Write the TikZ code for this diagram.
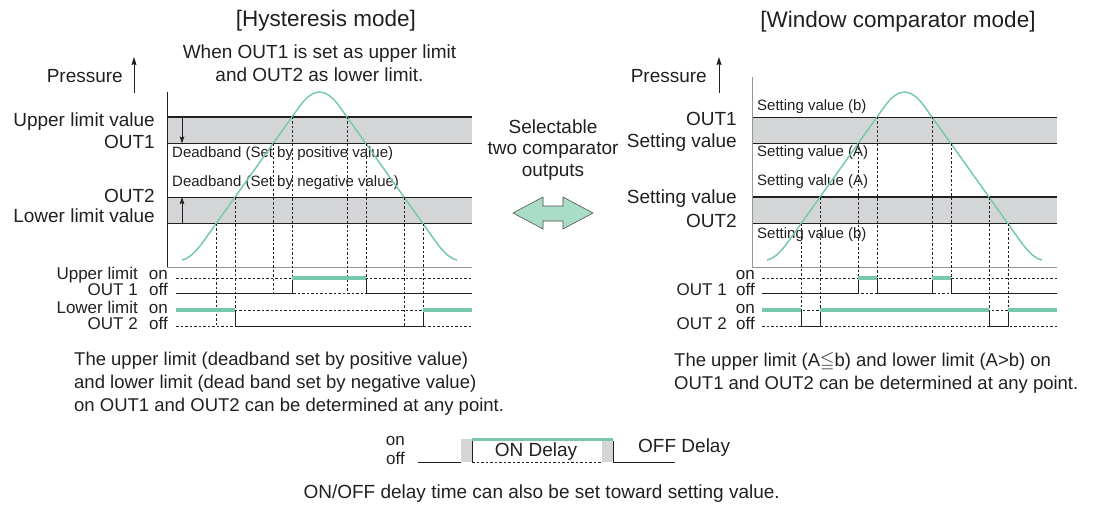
\documentclass[tikz,border=0pt]{standalone}
\usepackage{amssymb}
\usepackage{fontspec}
\setmainfont{Liberation Sans}
\usetikzlibrary{arrows.meta}

\definecolor{ink}{RGB}{35,31,32}
\definecolor{mint}{RGB}{120,201,172}
\definecolor{mintfill}{RGB}{170,221,200}
\definecolor{bandgray}{RGB}{212,213,215}
\definecolor{axisgray}{RGB}{150,150,150}

\newcommand\fsTitle{\fontsize{22.5}{27}\selectfont}
\newcommand\fsMain{\fontsize{19}{23}\selectfont}
\newcommand\fsNote{\fontsize{18.5}{23}\selectfont}
\newcommand\fsSel{\fontsize{19}{21.5}\selectfont}
\newcommand\fsTime{\fontsize{17}{16}\selectfont}
\newcommand\fsSmall{\fontsize{15}{18}\selectfont}

\tikzset{
  lbl/.style={inner sep=0pt, text=ink},
  guide/.style={ink, line width=0.5pt, dash pattern=on 2.5pt off 2pt},
  sig/.style={ink, line width=0.9pt},
  onsig/.style={mint, line width=3.2pt},
  wave/.style={mint, line width=1.5pt},
  setline/.style={ink, line width=1.6pt},
  bandline/.style={ink, line width=0.7pt},
  upar/.style={ink, line width=1pt, -{Stealth[length=8pt,width=5pt,inset=1pt]}},
  dbar/.style={ink, line width=0.7pt, -{Stealth[length=7pt,width=4.5pt,inset=1pt]}},
}

\newcommand\peakpath{%
  (-137.5,260) .. controls (-129,258.5) and (-121,248.3) .. (-115,239.9)
  -- (-20,106.5) .. controls (-13,96.7) and (-6,92) .. (0,92)
  .. controls (6,92) and (13,96.7) .. (20,106.5)
  -- (115,239.9) .. controls (121,248.3) and (129,258.5) .. (137.5,260)}

\begin{document}
\begin{tikzpicture}[x=1pt,y=-1pt]
\useasboundingbox (0,0) rectangle (1098,508);

%================ LEFT : Hysteresis =================
\node[lbl, font=\fsTitle] (titleL) at (326,21) {[Hysteresis mode]};
\node[lbl, font=\fsMain, align=center] (whenL) at (319.5,63) {When OUT1 is set as upper limit\\and OUT2 as lower limit.};
\node[lbl, font=\fsMain, anchor=mid east] (presL) at (123,80) {Pressure};
\coordinate (pLa) at (134,93);
\coordinate (pLb) at (134,57);
\draw[upar] (pLa) -- (pLb);

% bands
\fill[bandgray] (167,117) rectangle (472,143.5);
\fill[bandgray] (167,197) rectangle (472,223.5);
\draw[setline] (167,117) -- (472,117);
\draw[bandline] (167,143.5) -- (472,143.5);
\draw[bandline] (167,197) -- (472,197);
\draw[setline] (167,223.5) -- (472,223.5);

% axes
\coordinate (axLt) at (167,92);
\coordinate (axLo) at (167,267);
\coordinate (axLr) at (472,267);
\draw[ink, line width=0.8pt] (axLt) -- (axLo);
\draw[axisgray, line width=0.8pt] (axLo) -- (axLr);

% deadband arrows
\coordinate (dbA1) at (182,117); \coordinate (dbA2) at (182,143.5);
\coordinate (dbB1) at (182,223.5); \coordinate (dbB2) at (182,197);
\draw[dbar] (dbA1) -- (dbA2);
\draw[dbar] (dbB1) -- (dbB2);

\node[lbl, font=\fsMain, anchor=mid east] (ulv) at (155,124) {Upper limit value};
\node[lbl, font=\fsMain, anchor=mid east] (o1L) at (155,146) {OUT1};
\node[lbl, font=\fsMain, anchor=mid east] (o2L) at (155,200) {OUT2};
\node[lbl, font=\fsMain, anchor=mid east] (llv) at (155,220) {Lower limit value};
\node[lbl, font=\fsSmall, anchor=mid west] (dbp) at (172,155) {Deadband (Set by positive value)};
\node[lbl, font=\fsSmall, anchor=mid west] (dbn) at (172,184) {Deadband (Set by negative value)};

% curve
\begin{scope}[shift={(319.5,0)}]
  \draw[wave] \peakpath;
  \foreach \s in {-1,1}{
    \draw[guide] (\s*27.5,117) -- (\s*27.5,293);
    \draw[guide] (\s*46.5,143.5) -- (\s*46.5,293);
    \draw[guide] (\s*84.5,197) -- (\s*84.5,326);
    \draw[guide] (\s*103.5,223.5) -- (\s*103.5,326);
  }
\end{scope}

% timing levels
\foreach \yy in {278,293,310,326}{ \draw[guide] (176,\yy) -- (472,\yy); }
\draw[sig] (176,293) -- (292,293) -- (292,278);
\draw[onsig] (292,278) -- (366,278);
\draw[sig] (366,278) -- (366,293) -- (472,293);
\draw[onsig] (176,310) -- (235,310);
\draw[sig] (235,310) -- (235,326) -- (423,326) -- (423,310);
\draw[onsig] (423,310) -- (472,310);

\node[lbl, font=\fsTime, anchor=mid east] (ulL) at (138,277) {Upper limit};
\node[lbl, font=\fsTime, anchor=mid east] (onL1) at (168,277) {on};
\node[lbl, font=\fsTime, anchor=mid east] (out1L) at (138,293) {OUT 1};
\node[lbl, font=\fsTime, anchor=mid east] (offL1) at (168,293) {off};
\node[lbl, font=\fsTime, anchor=mid east] (llL) at (138,311) {Lower limit};
\node[lbl, font=\fsTime, anchor=mid east] (onL2) at (168,311) {on};
\node[lbl, font=\fsTime, anchor=mid east] (out2L) at (138,327) {OUT 2};
\node[lbl, font=\fsTime, anchor=mid east] (offL2) at (168,327) {off};

\node[lbl, font=\fsNote, align=left, anchor=west] (noteL) at (74,384)
  {The upper limit (deadband set by positive value)\\
   and lower limit (dead band set by negative value)\\
   on OUT1 and OUT2 can be determined at any point.};

%================ MIDDLE =================
\node[lbl, font=\fsSel, align=center] (selT) at (553,150) {Selectable\\two comparator\\outputs};
\draw[fill=mintfill, draw=ink!80, line width=0.6pt, line join=miter]
  (513,213) -- (543,197) -- (543,206) -- (563,206) -- (563,197) -- (593,213)
  -- (563,229) -- (563,221) -- (543,221) -- (543,229) -- cycle;

%================ RIGHT : Window comparator =================
\node[lbl, font=\fsTitle] (titleR) at (898,22) {[Window comparator mode]};
\node[lbl, font=\fsMain, anchor=mid east] (presR) at (707,80) {Pressure};
\coordinate (pRa) at (719,93);
\coordinate (pRb) at (719,57);
\draw[upar] (pRa) -- (pRb);

\fill[bandgray] (752,117) rectangle (1057,143.5);
\fill[bandgray] (752,197) rectangle (1057,223.5);
\draw[bandline] (752,117) -- (1057,117);
\draw[setline] (752,143.5) -- (1057,143.5);
\draw[setline] (752,197) -- (1057,197);
\draw[bandline] (752,223.5) -- (1057,223.5);

\coordinate (axRt) at (752,77);
\coordinate (axRo) at (752,267);
\coordinate (axRr) at (1057,267);
\draw[axisgray, line width=0.9pt] (axRt) -- (axRo) -- (axRr);

\node[lbl, font=\fsMain, anchor=mid east] (o1R) at (737,123) {OUT1};
\node[lbl, font=\fsMain, anchor=mid east] (sv1R) at (737,145) {Setting value};
\node[lbl, font=\fsMain, anchor=mid east] (sv2R) at (737,201) {Setting value};
\node[lbl, font=\fsMain, anchor=mid east] (o2R) at (737,225) {OUT2};
\node[lbl, font=\fsSmall, anchor=mid west] (svb1) at (757,108) {Setting value (b)};
\node[lbl, font=\fsSmall, anchor=mid west] (sva1) at (757,154) {Setting value (A)};
\node[lbl, font=\fsSmall, anchor=mid west] (sva2) at (757,183) {Setting value (A)};
\node[lbl, font=\fsSmall, anchor=mid west] (svb2) at (757,236) {Setting value (b)};

\begin{scope}[shift={(904.5,0)}]
  \draw[wave] \peakpath;
  \foreach \s in {-1,1}{
    \draw[guide] (\s*27.5,117) -- (\s*27.5,293);
    \draw[guide] (\s*46.5,143.5) -- (\s*46.5,293);
    \draw[guide] (\s*84.5,197) -- (\s*84.5,326);
    \draw[guide] (\s*103.5,223.5) -- (\s*103.5,326);
  }
\end{scope}

\foreach \yy in {278,293,310,326}{ \draw[guide] (762,\yy) -- (1057,\yy); }
\draw[sig] (762,293) -- (858,293) -- (858,278);
\draw[onsig] (858,278) -- (877,278);
\draw[sig] (877,278) -- (877,293) -- (932,293) -- (932,278);
\draw[onsig] (932,278) -- (951,278);
\draw[sig] (951,278) -- (951,293) -- (1057,293);
\draw[onsig] (762,310) -- (801,310);
\draw[sig] (801,310) -- (801,326) -- (820,326) -- (820,310);
\draw[onsig] (820,310) -- (989,310);
\draw[sig] (989,310) -- (989,326) -- (1008,326) -- (1008,310);
\draw[onsig] (1008,310) -- (1057,310);

\node[lbl, font=\fsTime, anchor=mid east] (onR1) at (755,277) {on};
\node[lbl, font=\fsTime, anchor=mid east] (out1R) at (727,293) {OUT 1};
\node[lbl, font=\fsTime, anchor=mid east] (offR1) at (755,293) {off};
\node[lbl, font=\fsTime, anchor=mid east] (onR2) at (755,311) {on};
\node[lbl, font=\fsTime, anchor=mid east] (out2R) at (727,327) {OUT 2};
\node[lbl, font=\fsTime, anchor=mid east] (offR2) at (755,327) {off};

\node[lbl, font=\fsNote, align=left, anchor=west] (noteR) at (674,372.5)
  {The upper limit (A$\leqq$b) and lower limit (A\textgreater b) on\\
   OUT1 and OUT2 can be determined at any point.};

%================ DELAY CHART =================
\node[lbl, font=\fsTime, anchor=mid east] (dOn) at (405,443) {on};
\node[lbl, font=\fsTime, anchor=mid east] (dOff) at (405,462) {off};
\fill[bandgray] (461,439) rectangle (472,462);
\fill[bandgray] (602,439) rectangle (613,462);
\draw[guide] (472,462) -- (602,462);
\draw[sig] (418,462) -- (461,462);
\draw[sig] (472,462) -- (472,441);
\draw[onsig, line width=3pt] (472,439.5) -- (613,439.5);
\draw[sig] (613,441) -- (613,462) -- (675,462);
\node[lbl, font=\fsMain] (onDel) at (536,452) {ON Delay};
\node[lbl, font=\fsMain, anchor=mid west] (offDel) at (638,450) {OFF Delay};

\node[lbl, font=\fsMain, anchor=mid east] (cap) at (780,496) {ON/OFF delay time can also be set toward setting value.};

\end{tikzpicture}
\end{document}
